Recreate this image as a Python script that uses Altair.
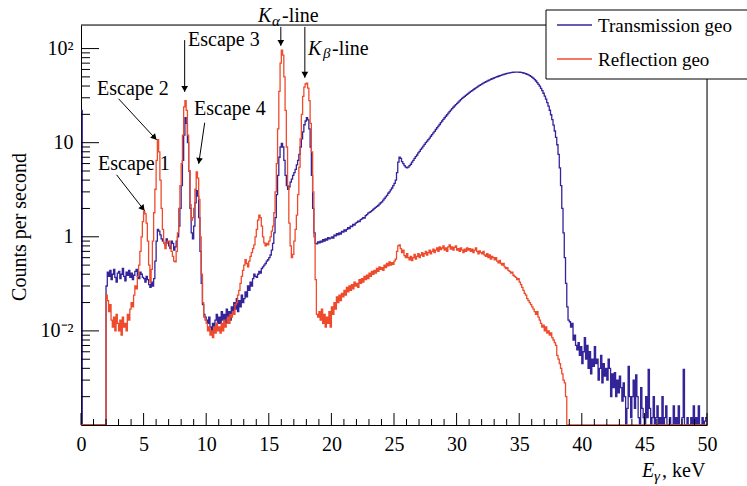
import math
import altair as alt
import pandas as pd

# ---------------- data (counts per second, 0.1 keV bins starting at 0 keV) ----------------
BIN_WIDTH = 0.1
series_names = ["Transmission geo", "Reflection geo"]
series_colors = ["#34249a", "#f04a2c"]

transmission = [
    22, 0.01, 0.01, 0.01, 0.01, 0.01, 0.01, 0.01, 0.01, 0.01,               # 0
    0.01, 0.01, 0.01, 0.01, 0.01, 0.01, 0.01, 0.01, 0.01, 0.01,             # 1
    0.30, 0.42, 0.38, 0.44, 0.35, 0.40, 0.45, 0.37, 0.33, 0.41,             # 2
    0.43, 0.36, 0.40, 0.46, 0.38, 0.34, 0.42, 0.39, 0.44, 0.37,             # 3
    0.41, 0.35, 0.39, 0.43, 0.45, 0.38, 0.36, 0.42, 0.40, 0.37,             # 4
    0.36, 0.33, 0.38, 0.35, 0.31, 0.29, 0.33, 0.30, 0.36, 0.55,             # 5
    0.9, 1.2, 1.15, 1.05, 0.95, 0.9, 0.85, 0.82, 0.95, 0.88,                # 6
    0.80, 0.75, 0.90, 0.85, 0.72, 0.78, 0.90, 1.0, 1.3, 2.0,                # 7
    3.5, 6.5, 12, 18.5, 16, 10, 5, 2.0, 1.1, 0.95,                          # 8
    1.3, 2.3, 3.1, 2.7, 1.6, 0.7, 0.32, 0.19, 0.15, 0.14,                   # 9
    0.13, 0.12, 0.14, 0.11, 0.10, 0.12, 0.11, 0.13, 0.15, 0.12,             # 10
    0.14, 0.12, 0.16, 0.13, 0.15, 0.12, 0.17, 0.14, 0.16, 0.13,             # 11
    0.18, 0.15, 0.20, 0.17, 0.22, 0.16, 0.21, 0.18, 0.24, 0.20,             # 12
    0.22, 0.26, 0.23, 0.30, 0.27, 0.33, 0.30, 0.36, 0.40, 0.38,             # 13
    0.37, 0.40, 0.43, 0.41, 0.46, 0.48, 0.50, 0.52, 0.55, 0.57,             # 14
    0.60, 0.64, 0.72, 0.85, 1.1, 1.6, 2.8, 4.5, 7, 9,                       # 15
    9.8, 9, 6.5, 4.5, 3.5, 3.2, 3.4, 3.8, 4.1, 4.5,                         # 16
    4.8, 5.2, 5.8, 6.5, 7.5, 9, 11, 13, 15.5, 17,                           # 17
    18.5, 17.5, 14, 9, 4.5, 2, 1.1, 0.85, 0.84, 0.88,                       # 18
    0.86, 0.90, 0.88, 0.93, 0.90, 0.95, 0.92, 0.98, 0.95, 0.97,             # 19
    1.0, 0.97, 1.04, 1.02, 1.08, 1.05, 1.1, 1.07, 1.14, 1.12,               # 20
    1.18, 1.15, 1.2, 1.25, 1.22, 1.3, 1.28, 1.35, 1.33, 1.4,                # 21
    1.42, 1.47, 1.45, 1.52, 1.55, 1.6, 1.58, 1.68, 1.72, 1.78,              # 22
    1.82, 1.85, 1.9, 1.95, 2.0, 2.05, 2.1, 2.15, 2.22, 2.3,                 # 23
    2.35, 2.45, 2.55, 2.65, 2.75, 2.9, 3.0, 3.15, 3.3, 3.5,                 # 24
    3.7, 4.0, 4.8, 6.2, 7.0, 6.8, 6.3, 6.0, 5.7, 5.5,                       # 25
    5.4, 5.5, 5.7, 5.9, 6.2, 6.5, 6.8, 7.1, 7.4, 7.8,                       # 26
    8.1, 8.5, 8.8, 9.2, 9.6, 10.0, 10.4, 10.8, 11.2, 11.7,                  # 27
    12.2, 12.7, 13.2, 13.8, 14.4, 15.0, 15.6, 16.3, 17.0, 17.7,             # 28
    18.4, 19.1, 19.8, 20.6, 21.4, 22.2, 23.0, 23.8, 24.6, 25.4,             # 29
    26.2, 27.0, 27.8, 28.7, 29.5, 30.3, 31.0, 31.8, 32.6, 33.4,             # 30
    34.2, 35.0, 35.8, 36.6, 37.4, 38.2, 39.0, 39.8, 40.6, 41.4,             # 31
    42.2, 43.0, 43.7, 44.4, 45.1, 45.8, 46.5, 47.2, 47.8, 48.4,             # 32
    49.0, 49.6, 50.2, 50.8, 51.4, 52.0, 52.5, 53.0, 53.5, 54.0,             # 33
    54.4, 54.8, 55.2, 55.5, 55.8, 56.0, 56.2, 56.3, 56.3, 56.2,             # 34
    56.0, 55.8, 55.4, 55.0, 54.5, 54.0, 53.3, 52.5, 51.6, 50.6,             # 35
    49.5, 48.2, 46.8, 45.2, 43.5, 41.7, 39.8, 37.8, 35.7, 33.5,             # 36
    31.2, 29.0, 26.7, 24.4, 22.1, 19.8, 17.6, 15.4, 13.3, 11.4,             # 37
    9.5, 7.5, 5.4, 3.5, 2.0, 1.1, 0.6, 0.32, 0.18, 0.13,                    # 38
    0.125, 0.11, 0.12, 0.08, 0.09, 0.07, 0.063, 0.075, 0.055, 0.068,        # 39
    0.045, 0.06, 0.085, 0.05, 0.07, 0.04, 0.06, 0.035, 0.05, 0.042,         # 40
    0.068, 0.045, 0.05, 0.03, 0.04, 0.055, 0.028, 0.045, 0.033, 0.04,       # 41
    0.03, 0.05, 0.04, 0.02, 0.035, 0.025, 0.036, 0.02, 0.03, 0.022,         # 42
    0.033, 0.025, 0.018, 0.028, 0.02, 0.01, 0.015, 0.042, 0.02, 0.012,      # 43
    0.02, 0.03, 0.015, 0.034, 0.02, 0.012, 0.01, 0.025, 0.015, 0.012,       # 44
    0.01, 0.02, 0.012, 0.039, 0.015, 0.01, 0.012, 0.02, 0.01, 0.012,        # 45
    0.016, 0.01, 0.012, 0.01, 0.02, 0.01, 0.012, 0.016, 0.01, 0.01,         # 46
    0.012, 0.01, 0.01, 0.016, 0.01, 0.012, 0.01, 0.016, 0.01, 0.01,         # 47
    0.012, 0.039, 0.01, 0.01, 0.012, 0.01, 0.01, 0.012, 0.01, 0.016,        # 48
    0.01, 0.012, 0.01, 0.016, 0.01, 0.01, 0.012, 0.01, 0.011, 0.012,        # 49
]

reflection = [
    0.01, 0.01, 0.01, 0.01, 0.01, 0.01, 0.01, 0.01, 0.01, 0.01,             # 0
    0.01, 0.01, 0.01, 0.01, 0.01, 0.01, 0.01, 0.01, 0.01, 0.01,             # 1
    0.24, 0.21, 0.16, 0.19, 0.13, 0.11, 0.14, 0.10, 0.15, 0.12,             # 2
    0.10, 0.13, 0.09, 0.14, 0.11, 0.12, 0.10, 0.15, 0.13, 0.17,             # 3
    0.20, 0.18, 0.24, 0.30, 0.28, 0.38, 0.5, 0.7, 1.0, 1.45,                # 4
    1.85, 1.75, 1.4, 0.9, 0.5, 0.33, 0.45, 0.9, 1.8, 3.2,                   # 5
    6.5, 10.8, 8.0, 4.0, 2.0, 1.2, 0.85, 0.75, 0.85, 0.9,                   # 6
    0.9, 0.8, 0.7, 0.62, 0.55, 0.54, 0.7, 1.1, 2.0, 3.5,                    # 7
    6, 12, 24, 28, 22, 12, 5, 2.2, 1.5, 1.6,                                # 8
    2.0, 3.2, 4.9, 4.2, 2.5, 1.0, 0.4, 0.2, 0.14, 0.13,                     # 9
    0.12, 0.10, 0.11, 0.09, 0.10, 0.085, 0.11, 0.095, 0.12, 0.10,           # 10
    0.11, 0.095, 0.12, 0.10, 0.13, 0.11, 0.12, 0.14, 0.12, 0.15,            # 11
    0.14, 0.16, 0.15, 0.19, 0.20, 0.24, 0.27, 0.32, 0.38, 0.44,             # 12
    0.50, 0.57, 0.52, 0.48, 0.55, 0.62, 0.68, 0.75, 0.82, 1.0,              # 13
    1.2, 1.5, 1.7, 1.6, 1.3, 1.0, 0.86, 0.80, 0.85, 0.82,                   # 14
    0.9, 1.0, 1.15, 1.3, 1.8, 3.0, 6, 14, 35, 70,                           # 15
    96, 85, 50, 22, 9, 3.5, 1.4, 0.8, 0.6, 0.65,                            # 16
    0.9, 1.2, 1.7, 2.8, 5.5, 11, 20, 31, 39, 42,                            # 17
    43, 38, 28, 16, 8, 3, 1.0, 0.35, 0.15, 0.14,                            # 18
    0.16, 0.13, 0.17, 0.12, 0.15, 0.11, 0.14, 0.12, 0.16, 0.11,             # 19
    0.18, 0.15, 0.20, 0.17, 0.23, 0.20, 0.24, 0.21, 0.25, 0.23,             # 20
    0.27, 0.24, 0.29, 0.26, 0.30, 0.27, 0.31, 0.28, 0.33, 0.30,             # 21
    0.32, 0.29, 0.35, 0.32, 0.36, 0.33, 0.38, 0.35, 0.39, 0.36,             # 22
    0.41, 0.38, 0.43, 0.40, 0.44, 0.41, 0.46, 0.43, 0.48, 0.45,             # 23
    0.47, 0.44, 0.50, 0.47, 0.52, 0.49, 0.54, 0.50, 0.53, 0.51,             # 24
    0.55, 0.58, 0.70, 0.80, 0.82, 0.75, 0.68, 0.72, 0.63, 0.60,             # 25
    0.66, 0.60, 0.57, 0.62, 0.56, 0.60, 0.65, 0.58, 0.62, 0.66,             # 26
    0.60, 0.64, 0.68, 0.62, 0.66, 0.70, 0.64, 0.68, 0.72, 0.66,             # 27
    0.70, 0.74, 0.68, 0.72, 0.76, 0.70, 0.78, 0.73, 0.76, 0.80,             # 28
    0.72, 0.76, 0.70, 0.78, 0.82, 0.74, 0.78, 0.72, 0.77, 0.80,             # 29
    0.72, 0.75, 0.70, 0.76, 0.72, 0.68, 0.74, 0.70, 0.76, 0.72,             # 30
    0.75, 0.70, 0.74, 0.68, 0.72, 0.76, 0.70, 0.66, 0.71, 0.68,             # 31
    0.66, 0.70, 0.64, 0.62, 0.66, 0.60, 0.64, 0.58, 0.62, 0.60,             # 32
    0.57, 0.60, 0.55, 0.53, 0.56, 0.52, 0.50, 0.52, 0.48, 0.46,             # 33
    0.47, 0.44, 0.43, 0.41, 0.42, 0.39, 0.38, 0.37, 0.35, 0.36,             # 34
    0.33, 0.31, 0.29, 0.27, 0.25, 0.24, 0.22, 0.21, 0.20, 0.19,             # 35
    0.18, 0.17, 0.16, 0.15, 0.16, 0.14, 0.13, 0.12, 0.11, 0.115,            # 36
    0.10, 0.11, 0.095, 0.10, 0.09, 0.095, 0.085, 0.08, 0.075, 0.07,         # 37
    0.055, 0.05, 0.045, 0.04, 0.035, 0.03, 0.028, 0.02, 0.01, 0.01,         # 38
] + [0.01] * 110                                                           # 39-49 (empty)

x_domain = [0, 50]
y_domain = [0.01, 178]
x_major_ticks = [0, 5, 10, 15, 20, 25, 30, 35, 40, 45, 50]
x_minor_ticks = [i for i in range(0, 51) if i % 5 != 0]
y_label_values = [0.1, 1, 10, 100]
y_label_texts = ["10\u207b\u00b2", "1", "10", "10\u00b2"]
y_minor_ticks = [k * 10.0 ** d for d in range(-2, 3) for k in range(2, 10)
                 if y_domain[0] < k * 10.0 ** d < y_domain[1]]

# annotation arrows: (start keV, start counts) -> (tip keV, tip counts)
arrow_labels = ["Escape 1", "Escape 2", "Escape 3", "Escape 4", "Ka", "Kb"]
arrow_x1 = [2.84, 3.00, 8.28, 9.88, 15.96, 17.88]
arrow_y1 = [4.56, 29.3, 123, 16.3, 170, 170]
arrow_x2 = [5.08, 6.04, 8.28, 9.40, 15.96, 17.88]
arrow_y2 = [1.89, 10.7, 34.7, 5.97, 107, 49]

# ---------------- layout ----------------
W, H = 626, 400
FONT = "Liberation Serif, Times New Roman, Times, serif"
PX_PER_KEV = W / (x_domain[1] - x_domain[0])
PX_PER_DEC = H / (math.log10(y_domain[1]) - math.log10(y_domain[0]))

xs = alt.Scale(domain=x_domain, nice=False, zero=False)
ys = alt.Scale(type="log", domain=y_domain, nice=False)


def hist_frame(values, name):
    e = [round(i * BIN_WIDTH, 2) for i in range(len(values))] + [x_domain[1]]
    v = list(values) + [values[-1]]
    return pd.DataFrame({"E": e, "v": v, "series": name})


df_t = hist_frame(transmission, series_names[0])
df_r = hist_frame(reflection, series_names[1])

lab_expr = " : ".join(
    f"datum.value == {val} ? '{txt}'" for val, txt in zip(y_label_values, y_label_texts)
) + " : ''"

x_axis = alt.Axis(values=x_major_ticks, tickSize=0, grid=False, domainColor="black",
                  domainWidth=1, labelFont=FONT, labelFontSize=20, labelColor="black",
                  labelPadding=9, title="", labelFlush=False)
y_axis = alt.Axis(values=y_label_values, labelExpr=lab_expr, tickSize=0, grid=False,
                  domainColor="black", domainWidth=1, labelFont=FONT, labelFontSize=20,
                  labelColor="black", labelPadding=8, title="", labelFlush=False)


def X(field):
    return alt.X(field, scale=xs, axis=x_axis)


def Y(field):
    return alt.Y(field, scale=ys, axis=y_axis)


base_t = alt.Chart(df_t).mark_line(interpolate="step-after", strokeWidth=1.3, clip=True,
                                   color=series_colors[0]).encode(x=X("E:Q"), y=Y("v:Q"))
base_r = alt.Chart(df_r).mark_line(interpolate="step-after", strokeWidth=1.3, clip=True,
                                   color=series_colors[1]).encode(x=X("E:Q"), y=Y("v:Q"))

# inward ticks
xt_major = alt.Chart(pd.DataFrame({"E": x_major_ticks})).mark_rule(color="black", strokeWidth=1).encode(
    x=X("E:Q"), y=alt.value(H), y2=alt.value(H - 12))
xt_minor = alt.Chart(pd.DataFrame({"E": x_minor_ticks})).mark_rule(color="black", strokeWidth=1).encode(
    x=X("E:Q"), y=alt.value(H), y2=alt.value(H - 6))
yt_major = alt.Chart(pd.DataFrame({"v": y_label_values})).mark_rule(color="black", strokeWidth=1).encode(
    y=Y("v:Q"), x=alt.value(0), x2=alt.value(18))
yt_minor = alt.Chart(pd.DataFrame({"v": y_minor_ticks})).mark_rule(color="black", strokeWidth=1).encode(
    y=Y("v:Q"), x=alt.value(0), x2=alt.value(9))

one = pd.DataFrame({"a": [0]})
frame_top = alt.Chart(one).mark_rule(color="black", strokeWidth=1).encode(
    x=alt.value(0), x2=alt.value(W), y=alt.value(0))
frame_right = alt.Chart(one).mark_rule(color="black", strokeWidth=1).encode(
    x=alt.value(W), y=alt.value(0), y2=alt.value(H))

# arrows
heads = {"E": [], "v": [], "ang": []}
for x1, y1, x2, y2 in zip(arrow_x1, arrow_y1, arrow_x2, arrow_y2):
    dx = (x2 - x1) * PX_PER_KEV
    dy = -(math.log10(y2) - math.log10(y1)) * PX_PER_DEC
    L = math.hypot(dx, dy)
    ux, uy = dx / L, dy / L
    back = 3.0
    heads["E"].append(x2 - ux * back / PX_PER_KEV)
    heads["v"].append(10 ** (math.log10(y2) + uy * back / PX_PER_DEC))
    heads["ang"].append(math.degrees(math.atan2(ux, -uy)) % 360)

arrow_df = pd.DataFrame({"label": arrow_labels, "x1": arrow_x1, "y1": arrow_y1,
                         "x2": arrow_x2, "y2": arrow_y2})
arrow_lines = alt.Chart(arrow_df).mark_rule(color="black", strokeWidth=1).encode(
    x=X("x1:Q"), y=Y("y1:Q"), x2="x2:Q", y2="y2:Q")
arrow_heads = alt.Chart(pd.DataFrame(heads)).mark_point(
    shape="triangle-up", filled=True, size=45, color="black", opacity=1).encode(
    x=X("E:Q"), y=Y("v:Q"), angle=alt.Angle("ang:Q", scale=None))


def txt(s, x, y, size=20, italic=False, angle=None, align="left", baseline="alphabetic"):
    kw = dict(text=s, font=FONT, fontSize=size, color="black", align=align, baseline=baseline)
    if italic:
        kw["fontStyle"] = "italic"
    if angle is not None:
        kw["angle"] = angle
    return alt.Chart(one).mark_text(**kw).encode(x=alt.value(x), y=alt.value(y))


texts = [
    txt("Escape 1", 17, 145),
    txt("Escape 2", 16, 70),
    txt("Escape 3", 107, 21),
    txt("Escape 4", 113, 90),
    txt("K", 177, -3, italic=True),
    txt("\u03b1", 191, 1, size=15, italic=True),
    txt("-line", 201, -3),
    txt("K", 227, 30, italic=True),
    txt("\u03b2", 242, 33, size=15, italic=True),
    txt("-line", 251, 30),
    txt("Counts per second", -61, 202, angle=270, align="center", baseline="middle"),
    txt("E", 561, 452, italic=True),
    txt("\u03b3", 573, 456, size=15, italic=True),
    txt(", keV", 581, 452),
]

legend_box = alt.Chart(one).mark_rect(fill="white", stroke="black", strokeWidth=1).encode(
    x=alt.value(465), x2=alt.value(720), y=alt.value(-15), y2=alt.value(54))
legend_items = []
for i, (name, col) in enumerate(zip(series_names, series_colors)):
    yy = 0 + 34 * i
    legend_items.append(alt.Chart(one).mark_rule(color=col, strokeWidth=1.6).encode(
        x=alt.value(476), x2=alt.value(511), y=alt.value(yy)))
    legend_items.append(txt(name, 517, yy + 6.5, size=19))

chart = alt.layer(
    base_t, base_r, xt_major, xt_minor, yt_major, yt_minor, frame_top, frame_right,
    arrow_lines, arrow_heads, *texts, legend_box, *legend_items
).properties(
    width=W, height=H,
    autosize=alt.AutoSizeParams(type="none"),
    padding={"left": 81, "top": 25, "right": 40, "bottom": 61},
).configure_view(strokeWidth=0).configure_axis(
    labelFont=FONT, labelFontSize=20, labelColor="black"
).configure_text(font=FONT).configure(background="white")

chart.save("out.html", embed_options={"renderer": "svg", "actions": False})
